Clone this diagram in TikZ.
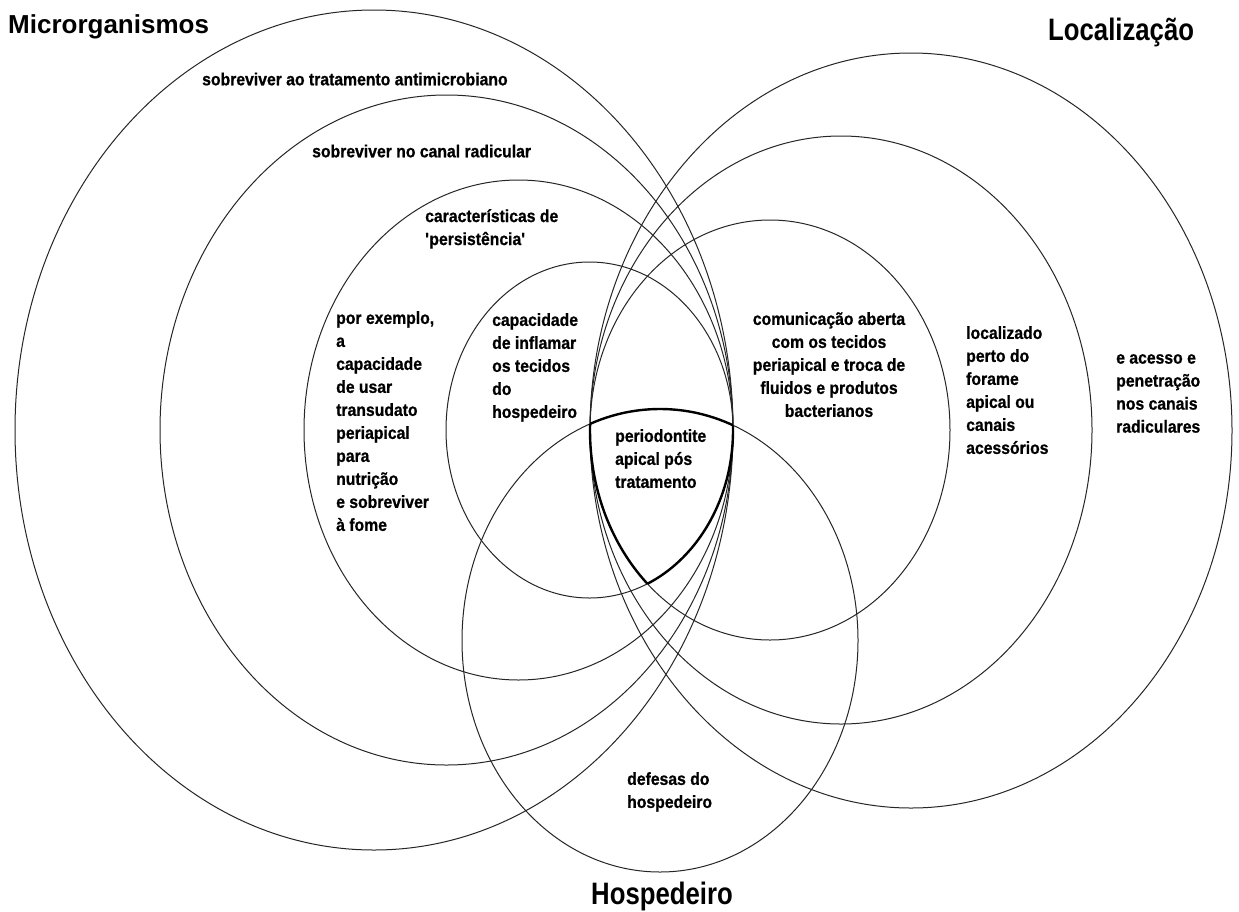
\documentclass[tikz,border=0pt]{standalone}
\usepackage{fontspec}
\setmainfont{Liberation Sans}
\newfontfamily\lblfont{Liberation Sans}[FakeStretch=0.9, FakeBold=0.8]
\newfontfamily\ttlnarrow{Liberation Sans}[FakeStretch=0.83]
\usepackage{tikz}

\begin{document}
\begin{tikzpicture}[x=1pt, y=-1pt,
  ring/.style={draw=black!85, line width=1pt},
  lens/.style={draw=black, line width=2.4pt},
  lbl/.style={font=\lblfont\bfseries\fontsize{17.5}{23}\selectfont, align=left,
              inner sep=0pt, anchor=north west, execute at begin node=\strut},
  ttl/.style={font=\bfseries\fontsize{26}{30}\selectfont, inner sep=0pt, anchor=base west},
  ttlnar/.style={ttl, font=\ttlnarrow\bfseries\fontsize{31}{34}\selectfont}]

  \fill[white] (0,0) rectangle (1239,911);
  \useasboundingbox (0,0) rectangle (1239,911);

  % Microrganismos
  \draw[ring] (374,430) ellipse [x radius=359pt, y radius=420pt];
  \draw[ring] (446.5,430) ellipse [x radius=286.5pt, y radius=335pt];
  \draw[ring] (518.5,430) ellipse [x radius=214.5pt, y radius=250pt];
  \draw[ring] (589.5,430) ellipse [x radius=143.5pt, y radius=168pt];
  % Localizacao
  \draw[ring] (911,430.5) ellipse [x radius=321pt, y radius=377.5pt];
  \draw[ring] (841,430) ellipse [x radius=251pt, y radius=294pt];
  \draw[ring] (770,430) ellipse [x radius=180pt, y radius=210pt];
  % Hospedeiro
  \draw[ring] (660,640.5) ellipse [x radius=198pt, y radius=231.5pt];

  % centre region
  \begin{scope}
    \clip (589.5,430) ellipse [x radius=143.5pt, y radius=168pt];
    \clip (770,430) ellipse [x radius=180pt, y radius=210pt];
    \draw[lens] (660,640.5) ellipse [x radius=198pt, y radius=231.5pt];
  \end{scope}
  \begin{scope}
    \clip (660,640.5) ellipse [x radius=198pt, y radius=231.5pt];
    \clip (770,430) ellipse [x radius=180pt, y radius=210pt];
    \draw[lens] (589.5,430) ellipse [x radius=143.5pt, y radius=168pt];
  \end{scope}
  \begin{scope}
    \clip (660,640.5) ellipse [x radius=198pt, y radius=231.5pt];
    \clip (589.5,430) ellipse [x radius=143.5pt, y radius=168pt];
    \draw[lens] (770,430) ellipse [x radius=180pt, y radius=210pt];
  \end{scope}

  \node[ttl] (micro) at (8,33) {Microrganismos};
  \node[ttlnar] (local) at (1048,40) {Localização};
  \node[ttlnar] (hosp) at (591,904) {Hospedeiro};

  \node[lbl] (antimic) at (202,69) {sobreviver ao tratamento antimicrobiano};
  \node[lbl] (canal) at (312,141) {sobreviver no canal radicular};
  \node[lbl] (persist) at (425,209) {características de\\\textquotesingle persistência\textquotesingle};
  \node[lbl] (exemplo) at (336,311) {por exemplo,\\a\\capacidade\\de usar\\transudato\\periapical\\para\\nutrição\\e sobreviver\\à fome};
  \node[lbl] (inflam) at (492,313) {capacidade\\de inflamar\\os tecidos\\do\\hospedeiro};
  \node[lbl, anchor=north, align=center] (comun) at (829,312) {comunicação aberta\\com os tecidos\\periapical e troca de\\fluidos e produtos\\bacterianos};
  \node[lbl] (forame) at (966,326) {localizado\\perto do\\forame\\apical ou\\canais\\acessórios};
  \node[lbl] (acesso) at (1116,354) {e acesso e\\penetração\\nos canais\\radiculares};
  \node[lbl] (perio) at (615,429) {periodontite\\apical pós\\tratamento};
  \node[lbl] (defesa) at (627,772) {defesas do\\hospedeiro};
\end{tikzpicture}
\end{document}
